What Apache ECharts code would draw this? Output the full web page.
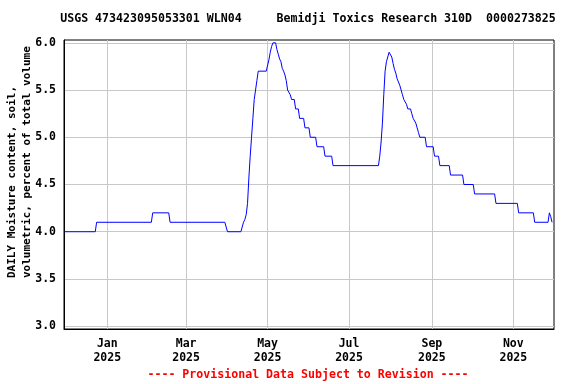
<!DOCTYPE html>
<html>
<head>
<meta charset="utf-8">
<script src="https://cdn.jsdelivr.net/npm/echarts@6/dist/echarts.min.js"></script>
<style>
html,body{margin:0;padding:0;background:#fff;}
#c{width:576px;height:384px;}
</style>
</head>
<body>
<div id="c"></div>
<script>
// Breakpoints of the daily series (date, value); the line joins them
var dates = [
  '2024-11-30','2024-12-23','2024-12-24','2025-02-03','2025-02-04','2025-02-16','2025-02-17',
  '2025-03-30','2025-03-31','2025-04-01','2025-04-11','2025-04-12','2025-04-13','2025-04-14',
  '2025-04-15','2025-04-16','2025-04-17','2025-04-18','2025-04-19','2025-04-20','2025-04-21',
  '2025-04-22','2025-04-23','2025-04-24','2025-04-30','2025-05-01','2025-05-02','2025-05-03',
  '2025-05-04','2025-05-05','2025-05-07','2025-05-08','2025-05-09','2025-05-10','2025-05-11',
  '2025-05-12','2025-05-13','2025-05-14','2025-05-15','2025-05-16','2025-05-17','2025-05-18',
  '2025-05-19','2025-05-21','2025-05-22','2025-05-24','2025-05-25','2025-05-28','2025-05-29',
  '2025-06-01','2025-06-02','2025-06-06','2025-06-07','2025-06-12','2025-06-13','2025-06-18',
  '2025-06-19','2025-07-23','2025-07-24','2025-07-25','2025-07-26','2025-07-27','2025-07-28',
  '2025-07-29','2025-07-30','2025-07-31','2025-08-01','2025-08-02','2025-08-03','2025-08-04',
  '2025-08-05','2025-08-06','2025-08-07','2025-08-08','2025-08-09','2025-08-10','2025-08-11',
  '2025-08-12','2025-08-13','2025-08-14','2025-08-16','2025-08-17','2025-08-18','2025-08-19',
  '2025-08-20','2025-08-21','2025-08-22','2025-08-23','2025-08-27','2025-08-28','2025-09-02',
  '2025-09-03','2025-09-06','2025-09-07','2025-09-14','2025-09-15','2025-09-24','2025-09-25',
  '2025-10-02','2025-10-03','2025-10-18','2025-10-19','2025-11-04','2025-11-05','2025-11-16',
  '2025-11-17','2025-11-27','2025-11-28','2025-11-29','2025-11-30'
];
var moisture = [
  4.0,4.0,4.1,4.1,4.2,4.2,4.1,
  4.1,4.05,4.0,4.0,4.05,4.1,4.13,
  4.18,4.3,4.57,4.8,5.0,5.2,5.4,
  5.5,5.6,5.7,5.7,5.72,5.82,5.9,
  5.96,6.0,6.0,5.93,5.88,5.83,5.8,
  5.73,5.7,5.66,5.6,5.5,5.5,5.45,
  5.4,5.4,5.3,5.3,5.2,5.2,5.1,
  5.1,5.0,5.0,4.9,4.9,4.8,4.8,
  4.7,4.7,4.8,4.95,5.15,5.45,5.7,
  5.8,5.85,5.9,5.92,5.85,5.78,5.72,
  5.68,5.62,5.6,5.55,5.5,5.45,5.4,
  5.4,5.35,5.3,5.3,5.25,5.2,5.2,
  5.15,5.1,5.05,5.0,5.0,4.9,4.9,
  4.8,4.8,4.7,4.7,4.6,4.6,4.5,
  4.5,4.4,4.4,4.3,4.3,4.2,4.2,
  4.1,4.1,4.2,4.16,4.1
];
var yTicks = [3.0, 3.5, 4.0, 4.5, 5.0, 5.5, 6.0];
var xTickDates = ['2025-01-01','2025-03-01','2025-05-01','2025-07-01','2025-09-01','2025-11-01'];
var monthNames = ['Jan','Feb','Mar','Apr','May','Jun','Jul','Aug','Sep','Oct','Nov','Dec'];
var titleText = 'USGS 473423095053301 WLN04     Bemidji Toxics Research 310D  0000273825';
var yName1 = 'DAILY Moisture content, soil,';
var yName2 = 'volumetric, percent of total volume';
var footText = '---- Provisional Data Subject to Revision ----';

function ts(s) {
  var p = s.split(/[-T:]/);
  return new Date(+p[0], +p[1] - 1, +p[2], +(p[3] || 0), +(p[4] || 0)).getTime();
}
var seriesData = dates.map(function (d, i) { return [ts(d), moisture[i]]; });
var xTicks = xTickDates.map(ts);

var FONT = '"DejaVu Sans Mono", monospace';
var chart = echarts.init(document.getElementById('c'), null, {renderer: 'canvas'});
chart.setOption({
  animation: false,
  backgroundColor: '#ffffff',
  grid: {left: 64, right: 22, top: 40, bottom: 55, show: true, borderColor: '#000', borderWidth: 1, containLabel: false},
  xAxis: {
    type: 'value',
    min: ts('2024-11-29T14:00'),
    max: ts('2025-12-01T11:00'),
    axisLine: {show: true, lineStyle: {color: '#000', width: 1}},
    axisTick: {show: false, customValues: xTicks},
    splitLine: {show: true, lineStyle: {color: '#c8c8c8', width: 1}},
    axisLabel: {
      customValues: xTicks,
      margin: 8,
      color: '#000',
      fontFamily: FONT,
      fontWeight: 'bold',
      fontSize: 11.5,
      lineHeight: 14,
      align: 'center',
      formatter: function (v) {
        var d = new Date(v);
        return monthNames[d.getMonth()] + '\n' + d.getFullYear();
      }
    }
  },
  yAxis: {
    type: 'value',
    min: 2.97,
    max: 6.03,
    axisLine: {show: true, lineStyle: {color: '#000', width: 1}},
    axisTick: {show: false, customValues: yTicks},
    splitLine: {show: true, lineStyle: {color: '#c8c8c8', width: 1}},
    axisLabel: {
      customValues: yTicks,
      margin: 8,
      color: '#000',
      fontFamily: FONT,
      fontWeight: 'bold',
      fontSize: 11.5,
      formatter: function (v) { return v.toFixed(1); }
    }
  },
  graphic: [
    {type: 'text', x: 308, y: 19, style: {text: titleText, fill: '#000', font: 'bold 11.6px "DejaVu Sans Mono", monospace', textAlign: 'center', textVerticalAlign: 'middle'}},
    {type: 'text', x: 308, y: 375, style: {text: footText, fill: '#ff0000', font: 'bold 11.6px "DejaVu Sans Mono", monospace', textAlign: 'center', textVerticalAlign: 'middle'}},
    {type: 'text', x: 12, y: 278, rotation: Math.PI / 2, style: {text: yName1, fill: '#000', font: 'bold 11px "DejaVu Sans Mono", monospace', textAlign: 'left', textVerticalAlign: 'middle'}},
    {type: 'text', x: 27, y: 278, rotation: Math.PI / 2, style: {text: yName2, fill: '#000', font: 'bold 11px "DejaVu Sans Mono", monospace', textAlign: 'left', textVerticalAlign: 'middle'}}
  ],
  series: [{
    type: 'line',
    data: seriesData,
    showSymbol: false,
    symbol: 'none',
    lineStyle: {color: '#0000ff', width: 1},
    itemStyle: {color: '#0000ff'}
  }]
});
</script>
</body>
</html>
